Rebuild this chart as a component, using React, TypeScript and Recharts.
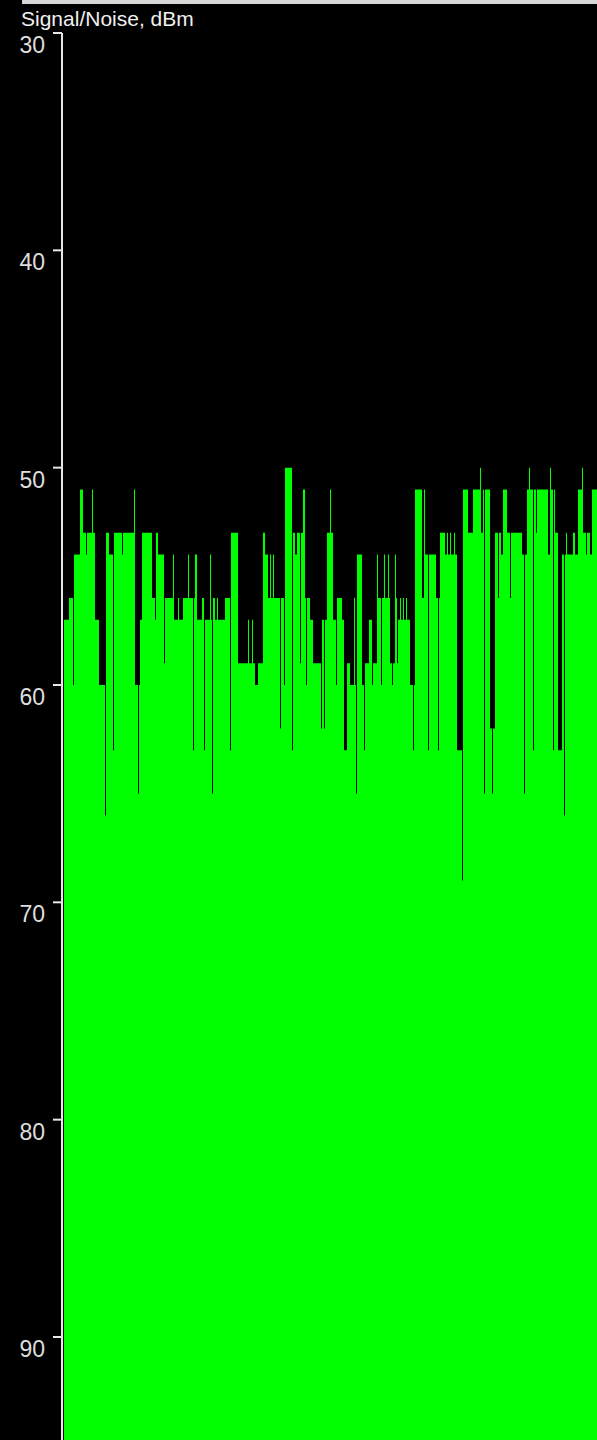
import { AreaChart, Area, XAxis, YAxis } from 'recharts';

// title and axis ticks
const title = 'Signal/Noise, dBm';
const yTicks = [30, 40, 50, 60, 70, 80, 90];

// signal level per sample, stored as [first sample of the run, dBm]
// each value holds until the next entry (step plot)
const readings: [number, number][] = [
  [0, 57], [5, 56], [9, 60], [10, 54], [16, 51], [19, 53], [22, 54], [23, 53],
  [28, 51], [29, 53], [31, 57], [35, 60], [41, 66], [42, 53], [45, 54], [49, 63],
  [50, 53], [58, 54], [59, 53], [70, 51], [71, 60], [74, 65], [75, 60], [76, 57],
  [78, 53], [88, 56], [91, 57], [92, 53], [94, 54], [100, 59], [101, 56], [109, 54],
  [110, 57], [114, 56], [115, 57], [119, 56], [124, 54], [125, 56], [129, 63], [130, 56],
  [131, 54], [133, 57], [138, 56], [140, 63], [141, 57], [146, 54], [147, 57], [148, 65],
  [149, 56], [151, 57], [153, 56], [154, 57], [161, 56], [166, 63], [167, 53], [174, 59],
  [184, 57], [185, 59], [188, 57], [189, 59], [191, 60], [194, 59], [199, 53], [201, 54],
  [204, 56], [206, 54], [207, 56], [209, 54], [210, 56], [216, 62], [217, 56], [220, 60],
  [221, 50], [228, 63], [229, 53], [231, 54], [233, 53], [236, 59], [237, 53], [239, 51],
  [241, 56], [242, 60], [243, 56], [246, 57], [249, 59], [257, 62], [258, 57], [260, 62],
  [261, 57], [263, 53], [266, 51], [267, 53], [269, 57], [272, 60], [273, 56], [278, 57],
  [280, 63], [283, 59], [286, 60], [290, 56], [291, 60], [292, 65], [293, 54], [298, 60],
  [300, 63], [301, 59], [305, 57], [308, 60], [309, 59], [313, 54], [314, 56], [317, 60],
  [318, 56], [320, 54], [321, 56], [324, 54], [325, 56], [326, 59], [328, 60], [329, 59],
  [331, 54], [332, 56], [333, 59], [334, 57], [336, 56], [337, 57], [339, 56], [340, 57],
  [342, 56], [343, 57], [346, 60], [349, 63], [350, 60], [351, 51], [358, 56], [360, 51],
  [361, 54], [364, 63], [365, 54], [372, 56], [374, 63], [375, 56], [376, 53], [381, 54],
  [383, 53], [384, 54], [386, 53], [387, 54], [390, 53], [391, 54], [393, 63], [398, 69],
  [399, 51], [404, 53], [409, 51], [416, 50], [417, 53], [419, 51], [420, 65], [421, 51],
  [426, 62], [428, 65], [429, 62], [431, 53], [434, 56], [435, 53], [437, 54], [439, 51],
  [443, 53], [446, 56], [447, 53], [458, 54], [460, 65], [461, 54], [463, 51], [465, 50],
  [466, 51], [469, 63], [470, 51], [472, 53], [473, 51], [484, 54], [486, 50], [487, 51],
  [489, 63], [490, 51], [491, 53], [494, 63], [498, 54], [500, 66], [501, 54], [502, 53],
  [503, 54], [509, 53], [511, 54], [514, 51], [518, 50], [519, 53], [522, 54], [523, 53],
  [526, 54], [528, 51], [533, 51],
];

const chartData = readings.map(([s, v]) => ({ s, v }));

const tickFont = '"Liberation Sans Narrow", "Arial Narrow", "Liberation Sans", Arial, sans-serif';

const renderTick = (props: any) => {
  const { x, y, payload } = props;
  return (
    <text x={x - 8} y={y + 20} textAnchor="end" fill="#dedede" fontSize={23} fontFamily={tickFont}>
      {payload.value}
    </text>
  );
};

export default function App() {
  return (
    <div style={{ position: 'absolute', top: 0, left: 0, width: 597, height: 1440, background: '#000', overflow: 'hidden' }}>
      <div style={{ position: 'absolute', top: 0, left: 22, width: 575, height: 4, background: '#d6d6d6' }} />
      <div
        style={{
          position: 'absolute',
          top: 7,
          left: 21,
          color: '#f0f0f0',
          fontSize: 21,
          lineHeight: '24px',
          fontFamily: '"Liberation Sans", Arial, sans-serif',
          whiteSpace: 'nowrap',
        }}
      >
        {title}
      </div>
      <AreaChart width={597} height={1440} data={chartData} margin={{ top: 33, right: 0, bottom: 0, left: 0 }}>
        <XAxis dataKey="s" type="number" domain={[-2, 533]} hide allowDataOverflow />
        <YAxis
          type="number"
          reversed
          width={62}
          domain={[30, 94.74]}
          ticks={yTicks}
          allowDataOverflow
          interval={0}
          axisLine={{ stroke: '#e6e6e6', strokeWidth: 2 }}
          tickLine={{ stroke: '#e6e6e6', strokeWidth: 2 }}
          tickSize={9}
          tickMargin={0}
          tick={renderTick}
        />
        <Area
          type="stepAfter"
          dataKey="v"
          baseValue="dataMax"
          stroke="none"
          fill="#00ff00"
          fillOpacity={1}
          isAnimationActive={false}
        />
      </AreaChart>
    </div>
  );
}
